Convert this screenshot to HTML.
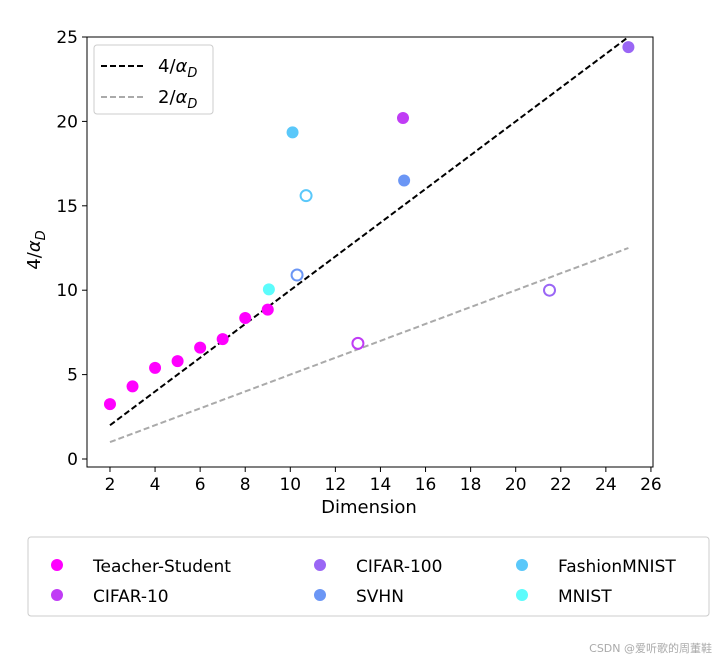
<!DOCTYPE html>
<html><head><meta charset="utf-8"><style>
body{margin:0;background:#fff;width:726px;height:662px;overflow:hidden}
text{font-family:"DejaVu Sans","Liberation Sans",sans-serif;fill:#000}
</style></head><body>
<svg id="chart" width="726" height="662" xmlns="http://www.w3.org/2000/svg">
<rect width="726" height="662" fill="#fff"/>
<g id="lines"></g>
<g id="points"></g>
<rect x="87" y="37" width="566" height="430" fill="none" stroke="#000" stroke-width="1"/>
<g id="xticks"></g><g id="yticks"></g>
<text x="369" y="513" font-size="18" text-anchor="middle">Dimension</text>
<text transform="translate(40,250) rotate(-90)" font-size="18" text-anchor="middle">4/<tspan font-style="italic">α</tspan><tspan font-size="13" dy="5" font-style="italic">D</tspan></text>
<g>
<rect x="94" y="45" width="119" height="69" rx="3" fill="#fff" stroke="#ccc"/>
<line x1="101" y1="66" x2="145" y2="66" stroke="#000" stroke-width="2" stroke-dasharray="6,3"/>
<text x="158" y="72" font-size="18">4/<tspan font-style="italic">α</tspan><tspan font-size="13" dy="5" font-style="italic">D</tspan></text>
<line x1="101" y1="97" x2="145" y2="97" stroke="#aaa" stroke-width="2" stroke-dasharray="6,3"/>
<text x="158" y="103" font-size="18">2/<tspan font-style="italic">α</tspan><tspan font-size="13" dy="5" font-style="italic">D</tspan></text>
</g>
<g>
<rect x="28" y="537" width="681" height="79" rx="3" fill="#fff" stroke="#ccc"/>
<g id="leg"></g>
</g>
<text x="712" y="652" font-size="11" style="fill:#aaa" text-anchor="end">CSDN @爱听歌的周董鞋</text>
</svg>
<script>
const NS="http://www.w3.org/2000/svg";
const xTicks=[2,4,6,8,10,12,14,16,18,20,22,24,26];
const yTicks=[0,5,10,15,20,25];
const datasets=["Teacher-Student","CIFAR-10","CIFAR-100","SVHN","FashionMNIST","MNIST"];
const colors=["#ff00ff","#c03cf5","#9a66f5","#6b96f5","#5ac8fa","#5cfcfc"];
const tsX=[2,3,4,5,6,7,8,9];
const tsY=[3.25,4.3,5.4,5.8,6.6,7.1,8.35,8.85];
const filledX=[15,25,15.05,10.1,9.05];
const filledY=[20.2,24.4,16.5,19.35,10.05];
const openX=[13,21.5,10.3,10.7];
const openY=[6.85,10,10.9,15.6];
const lineX=[2,25];
const sx=v=>64.9+v*22.54, sy=v=>459-v*16.88;
function el(t,a,p){const e=document.createElementNS(NS,t);for(const k in a)e.setAttribute(k,a[k]);p.appendChild(e);return e;}
const L=document.getElementById('lines');
let l1=el('line',{x1:sx(lineX[0]),y1:sy(lineX[0]),x2:sx(lineX[1]),y2:sy(lineX[1]),stroke:'#000','stroke-width':2,'stroke-dasharray':'6,3'},L);


let l2=el('line',{x1:sx(lineX[0]),y1:sy(lineX[0]/2),x2:sx(lineX[1]),y2:sy(lineX[1]/2),stroke:'#aaa','stroke-width':2,'stroke-dasharray':'6,3'},L);


const P=document.getElementById('points');
tsX.forEach((x,i)=>{const c=el('circle',{cx:sx(x),cy:sy(tsY[i]),r:6,fill:colors[0]},P);

});
filledX.forEach((x,i)=>{const c=el('circle',{cx:sx(x),cy:sy(filledY[i]),r:6,fill:colors[i+1]},P);

});
openX.forEach((x,i)=>{const c=el('circle',{cx:sx(x),cy:sy(openY[i]),r:5.5,fill:'#fff',stroke:colors[i+1],'stroke-width':2},P);

});
const XT=document.getElementById('xticks');
xTicks.forEach(v=>{el('line',{x1:sx(v),y1:467,x2:sx(v),y2:472,stroke:'#000'},XT);
const t=el('text',{x:sx(v),y:490,'font-size':17,'text-anchor':'middle'},XT);t.textContent=v;

});
const YT=document.getElementById('yticks');
yTicks.forEach(v=>{el('line',{x1:82,y1:sy(v),x2:87,y2:sy(v),stroke:'#000'},YT);
const t=el('text',{x:78,y:sy(v)+6,'font-size':17,'text-anchor':'end'},YT);t.textContent=v;

});
const LG=document.getElementById('leg');
const colX=[57,320,522];
datasets.forEach((d,i)=>{const col=Math.floor(i/2),row=i%2;const x=colX[col],y=565+row*30;
el('circle',{cx:x,cy:y,r:6,fill:colors[i]},LG);
const t=el('text',{x:x+36,y:y+7,'font-size':17},LG);t.textContent=d;

});
</script>
</body></html>
